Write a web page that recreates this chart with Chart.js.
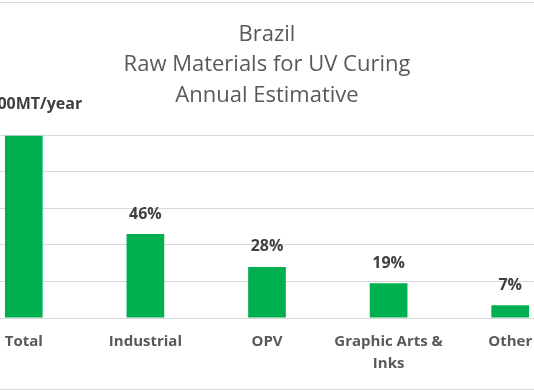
<!DOCTYPE html>
<html>
<head>
<meta charset="utf-8">
<script src="https://cdn.jsdelivr.net/npm/chart.js@4"></script>
<style>
  html, body { margin: 0; padding: 0; background: #fff; overflow: hidden; }
  body { width: 534px; height: 390px; position: relative; }
  #wrap { position: absolute; left: -60px; top: 0; width: 654px; height: 390px; }
  .edge { position: absolute; left: 0; width: 534px; height: 1px; background: #d9d9d9; }
</style>
</head>
<body>
<div class="edge" style="top:2px"></div>
<div class="edge" style="top:389px"></div>
<div id="wrap"><canvas id="chart"></canvas></div>
<script>
const categories = ["Total", "Industrial", "OPV", ["Graphic Arts &", "Inks"], "Other"];
const shares = [100, 46, 28, 19, 7];
const barLabels = ["10,000MT/year", "46%", "28%", "19%", "7%"];
const titleLines = ["Brazil", "Raw Materials for UV Curing", "Annual Estimative"];
const yTicks = { min: 0, max: 100, step: 20 };

const FONT = "'Open Sans', 'DejaVu Sans', sans-serif";

// labels above each bar, the total one sits a bit higher
const barLabelPlugin = {
  id: "barLabels",
  afterDatasetsDraw(chart) {
    const ctx = chart.ctx;
    const meta = chart.getDatasetMeta(0);
    ctx.save();
    ctx.font = "bold 16px " + FONT;
    ctx.fillStyle = "#404040";
    ctx.textAlign = "center";
    ctx.textBaseline = "middle";
    meta.data.forEach((bar, i) => {
      const off = i === 0 ? 31 : 20;
      ctx.fillText(barLabels[i], bar.x, bar.y - off);
    });
    ctx.restore();
  },
};

new Chart(document.getElementById("chart"), {
  type: "bar",
  data: {
    labels: categories,
    datasets: [
      {
        data: shares,
        backgroundColor: "#00b050",
        barPercentage: 0.31,
        categoryPercentage: 1,
      },
    ],
  },
  options: {
    responsive: true,
    maintainAspectRatio: false,
    animation: false,
    layout: { padding: { left: 23, right: 23, top: 0, bottom: 2 } },
    plugins: {
      legend: { display: false },
      tooltip: { enabled: false },
      title: {
        display: true,
        text: titleLines,
        color: "#595959",
        font: { family: FONT, size: 22, weight: "normal", lineHeight: 1.37 },
        padding: { top: 20, bottom: 25 },
      },
    },
    scales: {
      x: {
        grid: { display: false, drawTicks: false },
        border: { display: true, color: "#d9d9d9" },
        ticks: {
          color: "#595959",
          font: { family: FONT, size: 15, weight: "bold", lineHeight: 1.45 },
          padding: 13,
          maxRotation: 0,
          autoSkip: false,
        },
        afterFit(scale) {
          scale.height = 70;
        },
      },
      y: {
        display: true,
        min: yTicks.min,
        max: yTicks.max,
        ticks: { display: false, stepSize: yTicks.step },
        grid: { color: "#d9d9d9", drawTicks: false },
        border: { display: false },
        afterFit(scale) {
          scale.width = 0;
        },
      },
    },
  },
  plugins: [barLabelPlugin],
});
</script>
</body>
</html>
